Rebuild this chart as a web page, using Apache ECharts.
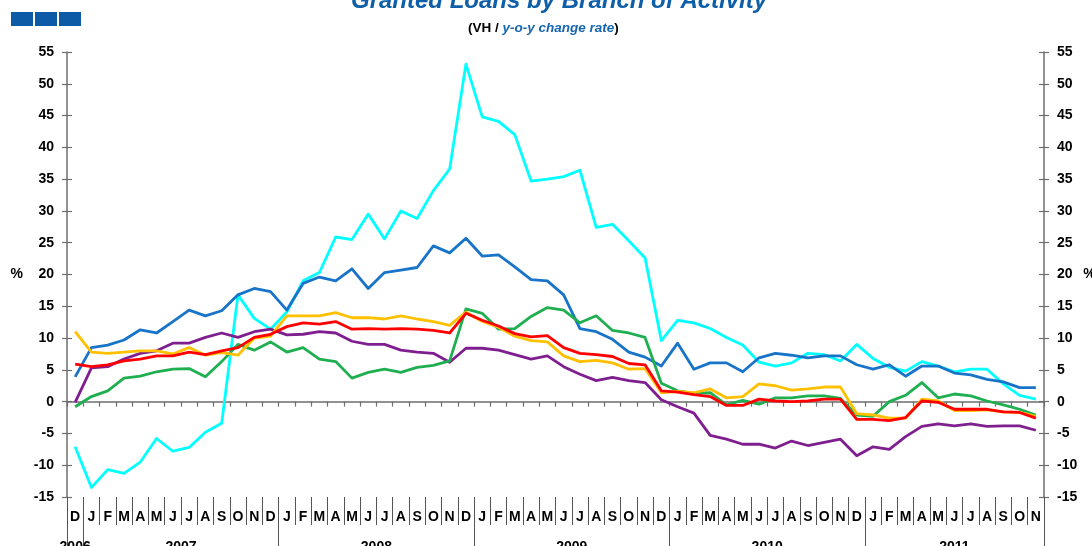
<!DOCTYPE html>
<html><head><meta charset="utf-8">
<script src="https://cdn.jsdelivr.net/npm/echarts@6/dist/echarts.min.js"></script>
<style>html,body{margin:0;padding:0;background:#fff}#c{width:1092px;height:546px}</style>
</head><body><div id="c"></div>
<script>
const months = ['D',
  'J','F','M','A','M','J','J','A','S','O','N','D',
  'J','F','M','A','M','J','J','A','S','O','N','D',
  'J','F','M','A','M','J','J','A','S','O','N','D',
  'J','F','M','A','M','J','J','A','S','O','N','D',
  'J','F','M','A','M','J','J','A','S','O','N'];
const yearLabels = ['2006','2007','2008','2009','2010','2011'];
const yearLabelPos = [0.5, 7, 19, 31, 43, 54.5];
const yearBounds = [0, 1, 13, 25, 37, 49, 60];
const yTicks = {min: -15, max: 55, interval: 5};

const cyanSeries = [-7.1,-13.5,-10.7,-11.3,-9.5,-5.8,-7.8,-7.2,-4.8,-3.4,
  16.8,13.1,11.4,14.1,19.0,20.3,25.9,25.5,29.5,25.6,
  30.0,28.8,33.2,36.6,53.1,44.8,44.1,42.0,34.7,35.0,
  35.4,36.4,27.4,27.9,25.3,22.6,9.6,12.8,12.4,11.5,
  10.1,8.9,6.2,5.6,6.1,7.6,7.4,6.4,9.0,6.8,
  5.4,4.8,6.3,5.6,4.7,5.1,5.1,2.8,1.0,0.4];
const blueSeries = [3.9,8.5,8.9,9.7,11.3,10.8,12.6,14.4,13.5,14.3,
  16.8,17.8,17.3,14.4,18.6,19.6,19.0,20.9,17.8,20.3,
  20.7,21.1,24.5,23.4,25.7,22.9,23.1,21.2,19.2,19.0,
  16.8,11.5,11.0,9.8,7.8,7.0,5.6,9.2,5.1,6.1,
  6.1,4.7,6.9,7.6,7.3,6.9,7.2,7.2,5.8,5.1,
  5.8,4.0,5.6,5.6,4.5,4.2,3.5,3.1,2.2,2.2];
const yellowSeries = [11.0,7.8,7.6,7.8,8.0,8.0,7.5,8.5,7.3,7.7,
  7.3,10.0,10.3,13.5,13.5,13.5,14.0,13.2,13.2,13.0,
  13.5,13.0,12.6,12.0,14.1,12.6,11.7,10.3,9.6,9.4,
  7.2,6.3,6.5,6.1,5.1,5.2,1.4,1.6,1.4,2.0,
  0.6,0.8,2.8,2.5,1.8,2.0,2.3,2.3,-1.9,-2.1,
  -2.6,-2.6,0.4,0.1,-1.4,-1.4,-1.3,-1.6,-1.7,-2.3];
const greenSeries = [-0.8,0.8,1.7,3.7,4.0,4.7,5.1,5.2,3.9,6.3,
  9.0,8.1,9.4,7.8,8.5,6.7,6.3,3.7,4.6,5.1,
  4.6,5.4,5.7,6.4,14.6,13.9,11.4,11.5,13.4,14.8,
  14.4,12.4,13.5,11.2,10.8,10.1,2.9,1.7,1.3,1.4,
  -0.5,0.2,-0.4,0.6,0.6,0.9,0.9,0.5,-2.1,-2.3,
  0.0,1.0,3.0,0.6,1.2,0.9,0.1,-0.5,-1.2,-2.1];
const redSeries = [5.9,5.5,5.8,6.4,6.7,7.2,7.2,7.8,7.4,8.0,
  8.5,10.1,10.6,11.8,12.4,12.2,12.6,11.4,11.5,11.4,
  11.5,11.4,11.2,10.8,13.9,12.8,11.9,10.7,10.2,10.4,
  8.5,7.6,7.4,7.1,6.0,5.8,1.7,1.5,1.1,0.8,
  -0.6,-0.6,0.4,0.1,0.0,0.1,0.4,0.4,-2.8,-2.8,
  -3.0,-2.5,0.1,-0.1,-1.2,-1.2,-1.2,-1.6,-1.7,-2.6];
const purpleSeries = [-0.1,5.3,5.5,6.7,7.6,8.0,9.2,9.2,10.1,10.8,
  10.1,11.0,11.4,10.5,10.6,11.0,10.8,9.5,9.0,9.0,
  8.1,7.8,7.6,6.2,8.4,8.4,8.1,7.4,6.7,7.2,
  5.5,4.3,3.3,3.8,3.3,3.0,0.3,-0.8,-1.8,-5.3,
  -5.9,-6.7,-6.7,-7.3,-6.2,-6.9,-6.4,-5.9,-8.5,-7.1,
  -7.5,-5.5,-3.9,-3.5,-3.8,-3.5,-3.9,-3.8,-3.8,-4.5];

const FONT = "'Liberation Sans', Arial, sans-serif";
const AX = '#6e6e6e';
const chart = echarts.init(document.getElementById('c'), null, {renderer: 'canvas'});

const yLabel = {color: '#000', fontWeight: 'bold', fontSize: 14, fontFamily: FONT, margin: 13};
const yBase = Object.assign({type: 'value', splitLine: {show: false}}, yTicks);
const yMain = (pos) => Object.assign({}, yBase, {
  position: pos,
  axisLine: {show: true, onZero: false, lineStyle: {color: AX, width: 1.5}},
  axisTick: {show: true, length: 5, lineStyle: {color: AX, width: 1.2}},
  axisLabel: yLabel,
  name: '%', nameLocation: 'middle', nameRotate: 0, nameGap: pos === 'left' ? 44 : 36,
  nameTextStyle: {color: '#000', fontWeight: 'bold', fontSize: 14, fontFamily: FONT}
});
const yInner = (pos) => Object.assign({}, yBase, {
  position: pos,
  axisLine: {show: false, onZero: false},
  axisTick: {show: true, inside: true, length: 5, lineStyle: {color: AX, width: 1.2}},
  axisLabel: {show: false}
});

const line = (name, data, color, z) => ({
  name, type: 'line', data, xAxisIndex: 0, yAxisIndex: 0, z,
  symbol: 'none', smooth: false,
  lineStyle: {color, width: 2.8, join: 'round'},
  itemStyle: {color}
});

chart.setOption({
  animation: false,
  backgroundColor: '#fff',
  title: [
    {text: 'Granted Loans by Branch of Activity', left: 346, top: -16,
     textStyle: {color: '#0f5fa8', fontSize: 24, fontWeight: 'bold', fontStyle: 'italic', fontFamily: FONT}},
    {text: '{b|(VH / }{i|y-o-y change rate}{b|)}', left: 463, top: 16,
     textStyle: {rich: {
       b: {color: '#000', fontWeight: 'bold', fontSize: 13.5, fontFamily: FONT},
       i: {color: '#1565b0', fontWeight: 'bold', fontStyle: 'italic', fontSize: 13.5, fontFamily: FONT,
           textShadowColor: '#10203a', textShadowOffsetX: 1, textShadowOffsetY: 1, textShadowBlur: 0}
     }}}
  ],
  graphic: [
    {type: 'rect', left: 11, top: 12, shape: {width: 22, height: 14}, style: {fill: '#0d5aa7'}},
    {type: 'rect', left: 35, top: 12, shape: {width: 22, height: 14}, style: {fill: '#0d5aa7'}},
    {type: 'rect', left: 59, top: 12, shape: {width: 22, height: 14}, style: {fill: '#0d5aa7'}}
  ],
  grid: {left: 67, right: 48, top: 52, bottom: 49, containLabel: false, outerBoundsMode: 'none'},
  xAxis: [
    {type: 'category', data: months, position: 'bottom', boundaryGap: true,
     axisLine: {show: false, onZero: false},
     axisTick: {show: true, interval: 0, length: 28, lineStyle: {color: '#555', width: 1}},
     axisLabel: {interval: 0, margin: 13, color: '#000', fontWeight: 'bold', fontSize: 14, fontFamily: FONT},
     splitLine: {show: false}},
    {type: 'value', min: 0, max: 60, position: 'bottom',
     axisLine: {show: false, onZero: false},
     splitLine: {show: false},
     axisTick: {show: true, length: 50, customValues: yearBounds, lineStyle: {color: '#555', width: 1}},
     axisLabel: {customValues: yearLabelPos, margin: 43, color: '#000', fontWeight: 'bold', fontSize: 14, fontFamily: FONT,
                 formatter: (v) => { const i = yearLabelPos.indexOf(v); return i >= 0 ? yearLabels[i] : ''; }}},
    {type: 'category', data: months, position: 'bottom', boundaryGap: true,
     axisLine: {show: true, onZero: true, lineStyle: {color: AX, width: 1.5}},
     axisTick: {show: true, interval: 0, length: 5, lineStyle: {color: AX, width: 1.2}},
     axisLabel: {show: false}, splitLine: {show: false}}
  ],
  yAxis: [yMain('left'), yMain('right'), yInner('left'), yInner('right')],
  series: [
    line('Cyan', cyanSeries, '#00ffff', 2),
    line('Blue', blueSeries, '#1874c8', 3),
    line('Purple', purpleSeries, '#7f1f8f', 4),
    line('Green', greenSeries, '#1fae50', 5),
    line('Yellow', yellowSeries, '#ffc000', 6),
    line('Red', redSeries, '#ff0000', 7)
  ]
});
</script></body></html>
